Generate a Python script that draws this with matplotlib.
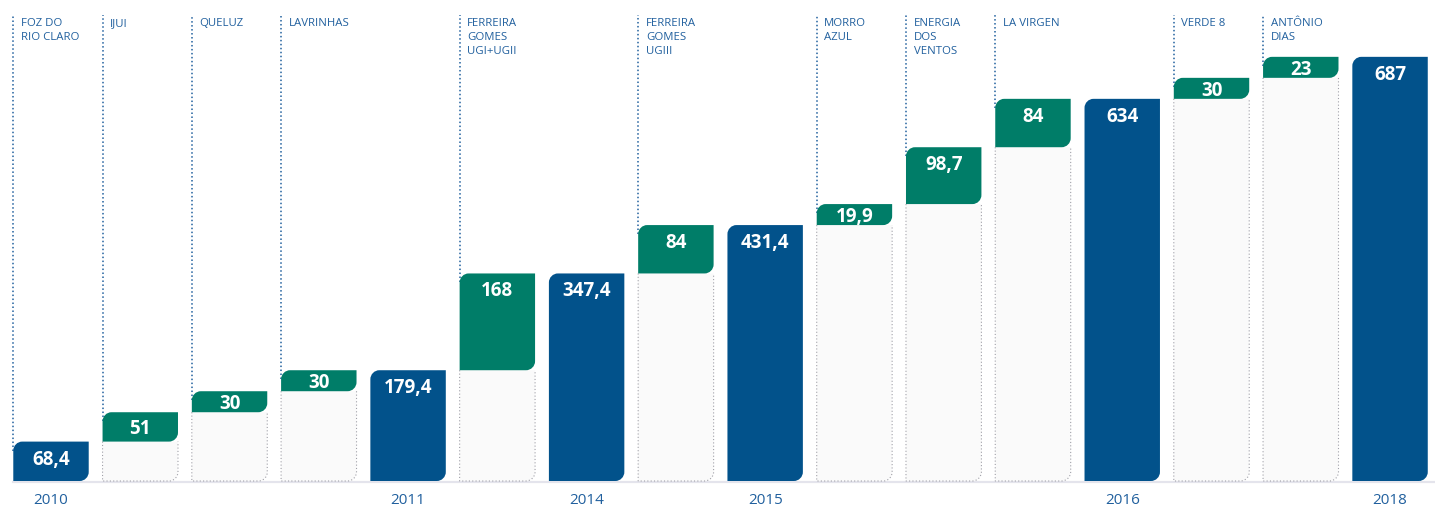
import matplotlib
matplotlib.use("Agg")
import matplotlib.pyplot as plt
from matplotlib.path import Path
from matplotlib.patches import PathPatch

# data
labels = ["FOZ DO\nRIO CLARO", "IJUI", "QUELUZ", "LAVRINHAS", "",
          "FERREIRA\nGOMES\nUGI+UGII", "", "FERREIRA\nGOMES\nUGIII", "",
          "MORRO\nAZUL", "ENERGIA\nDOS\nVENTOS", "LA VIRGEN", "",
          "VERDE 8", "ANTÔNIO\nDIAS", ""]
values = [68.4, 51, 30, 30, 179.4, 168, 347.4, 84, 431.4, 19.9, 98.7, 84, 634, 30, 23, 687]
is_total = [True, False, False, False, True, False, True, False, True,
            False, False, False, True, False, False, True]
value_text = ["68,4", "51", "30", "30", "179,4", "168", "347,4", "84", "431,4",
              "19,9", "98,7", "84", "634", "30", "23", "687"]
years = ["2010", "", "", "", "2011", "", "2014", "", "2015", "", "", "", "2016", "", "", "2018"]

BLUE = "#02528b"
GREEN = "#007d68"
TXT = "#21609e"
GREY_FILL = "#fafafa"

W, H = 1435, 507
fig = plt.figure(figsize=(W / 100, H / 100), dpi=100)
ax = fig.add_axes([0, 0, 1, 1])
ax.set_axis_off()

pitch = 89.27          # px between bars
yscale = 0.576         # px per unit
base_px = 481          # baseline from top
x0_px = 51             # centre of first bar
ax.set_xlim(-x0_px / pitch, (W - x0_px) / pitch)
ax.set_ylim(-(H - base_px) / yscale, base_px / yscale)

min_seg = 21 / yscale  # small steps get a minimum visible height
bw = 0.845
r_px = 9
rx = r_px / pitch
ry = r_px / yscale
k = 0.5523


def leaf(x0, x1, y0, y1, tl=True):
    v = [(x0, y0), (x1 - rx, y0),
         (x1 - rx + k * rx, y0), (x1, y0 + ry - k * ry), (x1, y0 + ry),
         (x1, y1)]
    c = [Path.MOVETO, Path.LINETO, Path.CURVE4, Path.CURVE4, Path.CURVE4, Path.LINETO]
    if tl:
        v += [(x0 + rx, y1), (x0 + rx - k * rx, y1), (x0, y1 - ry + k * ry), (x0, y1 - ry)]
        c += [Path.LINETO, Path.CURVE4, Path.CURVE4, Path.CURVE4]
    else:
        v += [(x0, y1)]
        c += [Path.LINETO]
    v += [(x0, y0)]
    c += [Path.CLOSEPOLY]
    return Path(v, c)


label_top = (base_px - 15) / yscale
cum = 0
for i, v in enumerate(values):
    x0, x1 = i - bw / 2, i + bw / 2
    if is_total[i]:
        bottom, top = 0, (v if i == 0 else cum)
        cum = top
        color = BLUE
    else:
        bottom, top = cum, cum + max(v, min_seg)
        cum = top
        color = GREEN
        # grey base
        ax.add_patch(PathPatch(leaf(x0, x1, 0, bottom, tl=False),
                               facecolor=GREY_FILL, edgecolor="none", zorder=1))
        outline = Path([(x0, bottom), (x0, 0), (x1 - rx, 0),
                        (x1 - rx + k * rx, 0), (x1, ry - k * ry), (x1, ry),
                        (x1, bottom)],
                       [Path.MOVETO, Path.LINETO, Path.LINETO,
                        Path.CURVE4, Path.CURVE4, Path.CURVE4, Path.LINETO])
        ax.add_patch(PathPatch(outline, facecolor="none", edgecolor="#a0a0a8",
                               lw=0.8, linestyle=(0, (1, 2)), zorder=1.5))
    ax.add_patch(PathPatch(leaf(x0, x1, bottom, top), facecolor=color,
                           edgecolor="none", zorder=2))
    h_px = (top - bottom) * yscale
    off = min(15.5, h_px / 2) * 0.72
    ax.annotate(value_text[i], (i, top), xytext=(0, -off), textcoords="offset points",
                ha="center", va="center_baseline", color="white", fontsize=13.5,
                fontweight="bold", fontfamily="Open Sans", zorder=3)
    if labels[i]:
        ax.plot([x0, x0], [top - ry, label_top], color=TXT, lw=1.1,
                linestyle=(0, (1, 1.6)), zorder=1)
        ax.annotate(labels[i], (x0, label_top), xytext=(5.5, -2.5), textcoords="offset points",
                    ha="left", va="top", color=TXT, fontsize=8.2,
                    fontfamily="Open Sans", linespacing=1.32)
    if years[i]:
        ax.annotate(years[i], (i, 0), xytext=(0, -14), textcoords="offset points",
                    ha="center", va="center", color=TXT, fontsize=11,
                    fontfamily="Open Sans")

# baseline
ax.plot([-bw / 2, ax.get_xlim()[1]], [-1, -1], color="#e4e4ec", lw=1.6, zorder=0.5)

fig.savefig("out.png", dpi=100)
